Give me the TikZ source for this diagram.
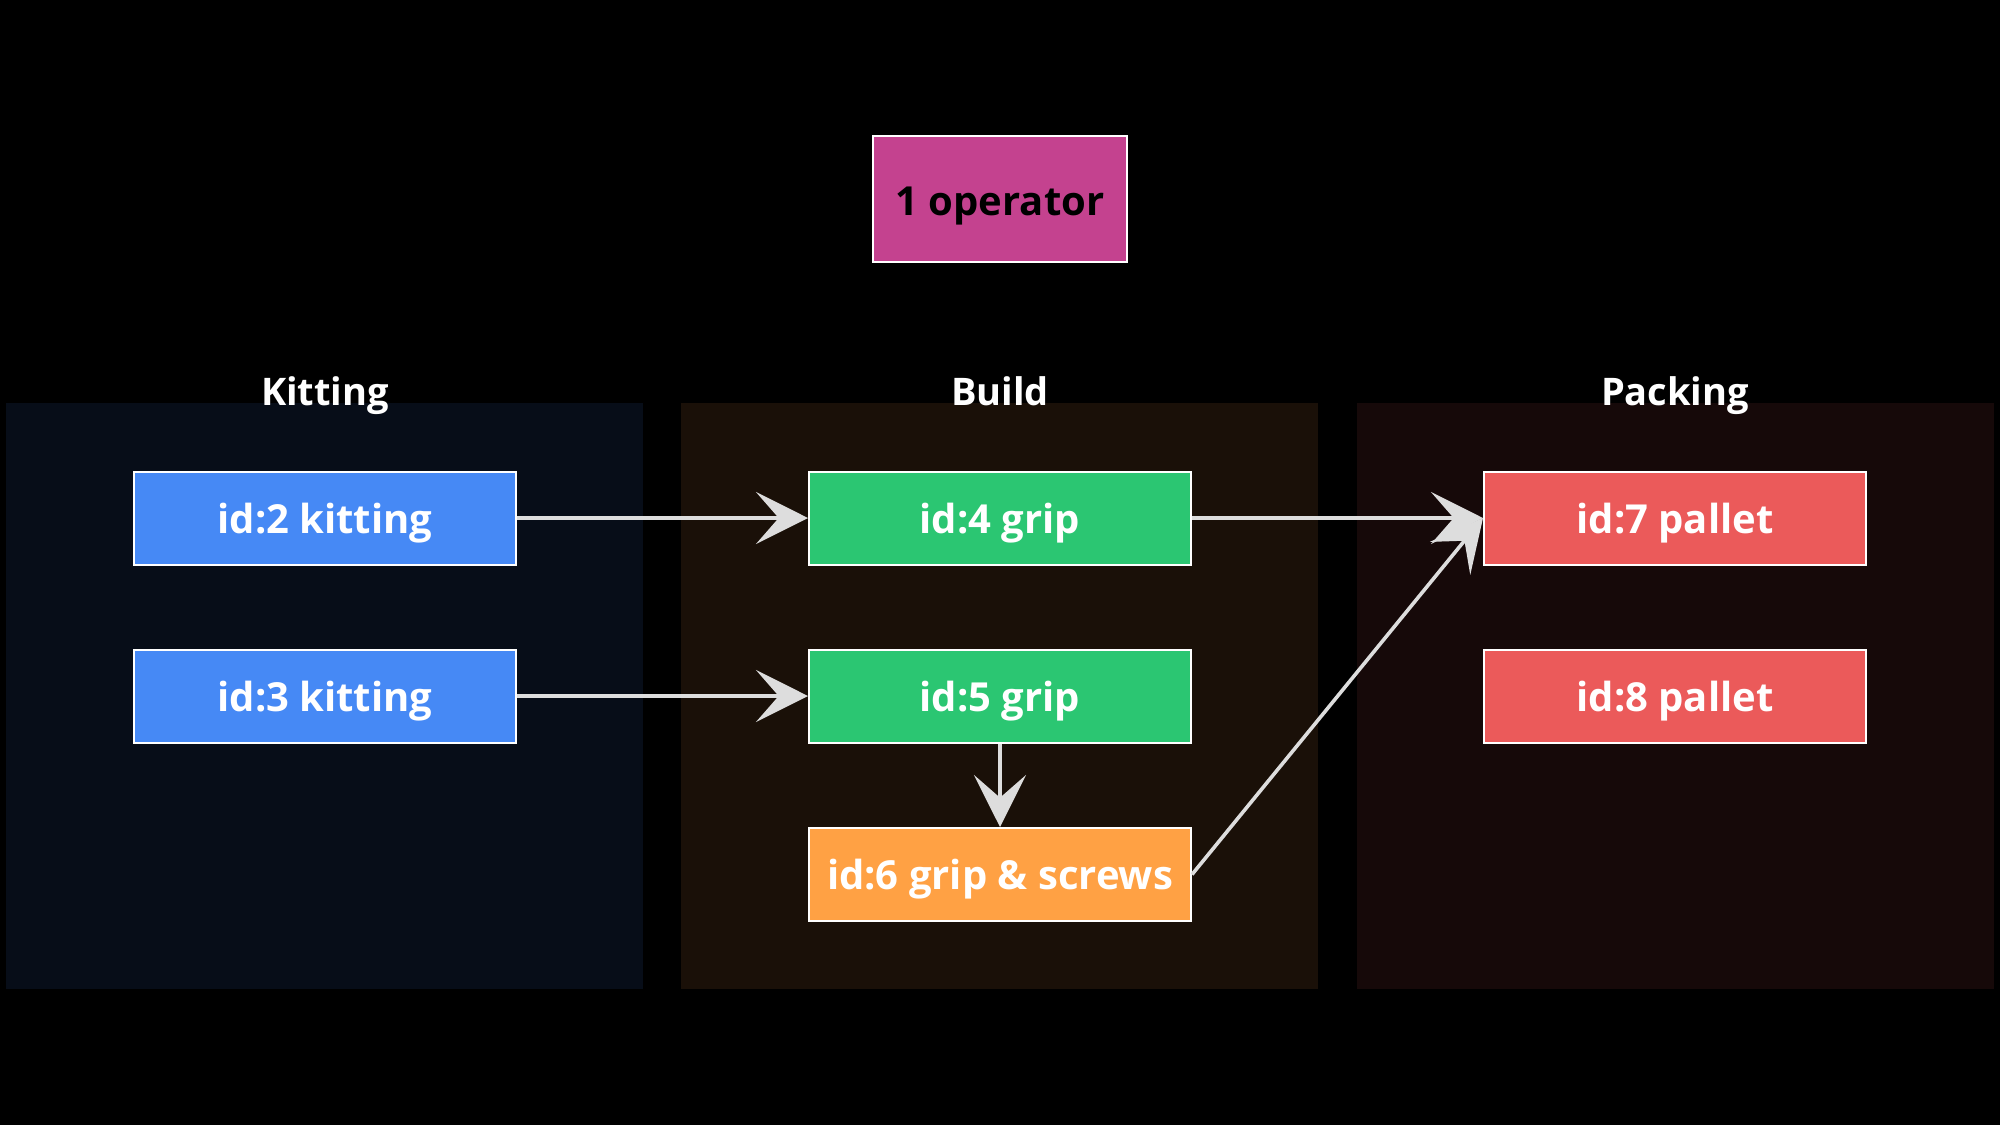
\documentclass[tikz,border=0pt]{standalone}
\usepackage{fontspec}
\setmainfont{Open Sans}
\usetikzlibrary{arrows.meta}
\definecolor{bgK}{HTML}{070D18}
\definecolor{bgB}{HTML}{1A1008}
\definecolor{bgP}{HTML}{160909}
\definecolor{cBlue}{HTML}{4689F5}
\definecolor{cGreen}{HTML}{2BC672}
\definecolor{cOrange}{HTML}{FFA144}
\definecolor{cRed}{HTML}{EB5A5A}
\definecolor{cMag}{HTML}{C4428F}
\definecolor{cLink}{HTML}{DDDDDD}
\tikzset{
  panel/.style={fill=#1, draw=none},
  box/.style={draw=white, line width=1.5pt, fill=#1, minimum width=286.5pt, minimum height=69.75pt,
    inner sep=0pt, text height=22.5pt, text depth=0pt,
    font=\fontsize{30}{36}\selectfont\bfseries, text=white},
  lbl/.style={font=\fontsize{28.5}{34}\selectfont\bfseries, text=white, anchor=base, inner sep=0pt},
  link/.style={draw=cLink, line width=2.7pt, -{Stealth[length=39pt,width=39pt,inset=17pt]}}
}
\begin{document}
\begin{tikzpicture}[x=0.75pt,y=-0.75pt]
\useasboundingbox[fill=black] (0,0) rectangle (2000,1125);
% panels
\node[panel=bgK, minimum width=477.75pt, minimum height=439.5pt, inner sep=0pt, anchor=north west] (pk) at (6,403) {};
\node[panel=bgB, minimum width=477.75pt, minimum height=439.5pt, inner sep=0pt, anchor=north west] (pb) at (681,403) {};
\node[panel=bgP, minimum width=477.75pt, minimum height=439.5pt, inner sep=0pt, anchor=north west] (pp) at (1357,403) {};
% panel labels
\node[lbl] (lk) at (325,405) {Kitting};
\node[lbl] (lb) at (1000,405) {Build};
\node[lbl] (lp) at (1675,405) {Packing};
% operator
\node[box=cMag, minimum width=190.5pt, minimum height=94.5pt, text height=24pt, text=black] (op) at (1000,199) {1 operator};
% nodes
\node[box=cBlue] (n2) at (325,518) {id:2 kitting};
\node[box=cBlue] (n3) at (325,696) {id:3 kitting};
\node[box=cGreen] (n4) at (1000,518) {id:4 grip};
\node[box=cGreen] (n5) at (1000,696) {id:5 grip};
\node[box=cOrange] (n6) at (1000,874.5) {id:6 grip \& screws};
\node[box=cRed] (n7) at (1675,518) {id:7 pallet};
\node[box=cRed] (n8) at (1675,696) {id:8 pallet};
% connectors
\draw[link] (n2.east) -- (n4.west);
\draw[link] (n3.east) -- (n5.west);
\draw[link] (n4.east) -- (n7.west);
\draw[link] (n5.south) -- (n6.north);
\draw[link] (n6.east) -- (n7.west);
\end{tikzpicture}
\end{document}
